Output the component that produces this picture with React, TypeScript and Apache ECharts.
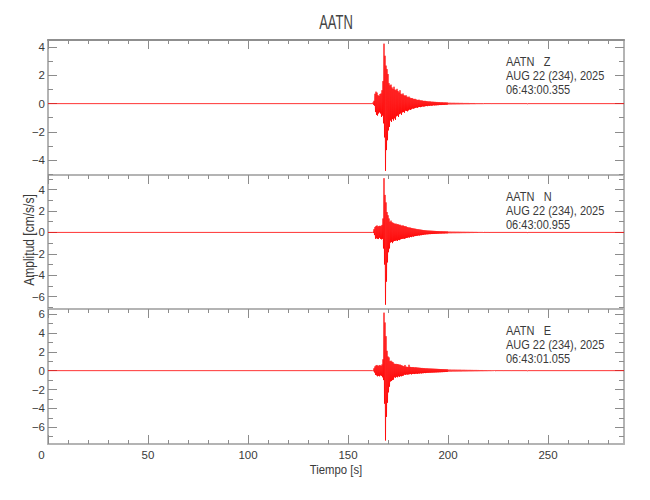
import React, { useEffect, useRef } from "react";
import * as echarts from "echarts";

const TITLE = "AATN";
const STATION = "AATN";
const COMPONENTS = ["Z", "N", "E"];
const DATE_LABEL = "AUG 22 (234), 2025";
const START_TIMES = ["06:43:00.355", "06:43:00.955", "06:43:01.055"];
const X_NAME = "Tiempo [s]";
const Y_NAME = "Amplitud [cm/s/s]";

const X_MAX = 288;
const X_MAJOR = [0, 50, 100, 150, 200, 250];
const X_MINOR = [10, 20, 30, 40, 60, 70, 80, 90, 110, 120, 130, 140, 160, 170, 180, 190, 210, 220, 230, 240, 260, 270, 280];

const Y_MIN = [-5.07, -7.15, -7.77];
const Y_MAX = [4.52, 5.36, 6.53];
const Y_MAJOR = [
  [-4, -2, 0, 2, 4],
  [-6, -4, -2, 0, 2, 4],
  [-6, -4, -2, 0, 2, 4, 6],
];
const Y_MINOR = [
  [-5, -3, -1, 1, 3],
  [-7, -5, -3, -1, 1, 3, 5],
  [-7, -5, -3, -1, 1, 3, 5],
];

// Envelope read per half second (upper / lower extremes), from t = 162.5 s
const ENV_START = 162.5;
const ENV_STEP = 0.5;

const Z_UP = [0.08, 0.2, 0.7, 0.85, 0.78, 0.6, 0.55, 0.68, 0.72, 0.95, 1.6, 4.26, 3.4, 2.7, 2.45, 2.1, 1.45, 1.3, 1.35, 1.15, 1.05, 1.2, 1.0, 0.95, 1.05, 0.9, 0.8, 0.95, 0.7, 0.65, 0.72, 0.6, 0.55, 0.6, 0.5, 0.45, 0.5, 0.42, 0.38, 0.4, 0.35, 0.32, 0.34, 0.3, 0.27, 0.26, 0.28, 0.24, 0.22, 0.23, 0.2, 0.19, 0.2, 0.18, 0.17, 0.16, 0.15, 0.16, 0.14, 0.13, 0.14, 0.12, 0.13, 0.11, 0.12, 0.1, 0.11, 0.1, 0.09, 0.1, 0.09, 0.08, 0.09, 0.08, 0.08];
const Z_LO = [-0.08, -0.15, -0.6, -0.8, -0.85, -0.7, -0.62, -0.7, -0.95, -0.85, -1.4, -2.4, -4.78, -3.3, -2.6, -1.9, -1.65, -1.2, -1.3, -1.1, -1.2, -1.05, -1.15, -0.9, -0.85, -0.95, -0.75, -0.7, -0.8, -0.62, -0.6, -0.65, -0.5, -0.52, -0.55, -0.48, -0.42, -0.45, -0.4, -0.35, -0.36, -0.33, -0.3, -0.28, -0.3, -0.25, -0.24, -0.25, -0.23, -0.2, -0.21, -0.2, -0.18, -0.17, -0.18, -0.15, -0.16, -0.14, -0.15, -0.14, -0.12, -0.13, -0.12, -0.12, -0.11, -0.11, -0.1, -0.1, -0.1, -0.09, -0.09, -0.09, -0.08, -0.08, -0.07];

const N_UP = [0.05, 0.3, 0.5, 0.6, 0.65, 0.55, 0.6, 0.62, 0.58, 0.7, 1.3, 5.06, 3.5, 2.8, 1.9, 1.6, 1.3, 1.0, 1.1, 0.95, 0.9, 0.85, 0.8, 0.82, 0.75, 0.78, 0.7, 0.72, 0.65, 0.62, 0.66, 0.6, 0.56, 0.58, 0.5, 0.48, 0.45, 0.46, 0.42, 0.4, 0.38, 0.36, 0.35, 0.33, 0.3, 0.3, 0.28, 0.27, 0.25, 0.24, 0.22, 0.21, 0.2, 0.19, 0.18, 0.17, 0.17, 0.16, 0.16, 0.15, 0.15, 0.14, 0.14, 0.13, 0.13, 0.12, 0.12, 0.11, 0.11, 0.11, 0.1, 0.1, 0.1, 0.09, 0.09];
const N_LO = [-0.05, -0.25, -0.6, -0.55, -0.6, -0.62, -0.5, -0.6, -0.65, -0.6, -1.5, -3.0, -6.75, -4.6, -2.8, -1.85, -1.5, -0.95, -0.9, -1.0, -0.85, -0.8, -0.78, -0.75, -0.8, -0.7, -0.72, -0.65, -0.62, -0.6, -0.58, -0.6, -0.55, -0.52, -0.5, -0.46, -0.48, -0.42, -0.44, -0.38, -0.4, -0.35, -0.34, -0.32, -0.31, -0.28, -0.29, -0.26, -0.26, -0.23, -0.23, -0.2, -0.2, -0.18, -0.18, -0.17, -0.16, -0.16, -0.15, -0.15, -0.14, -0.14, -0.13, -0.13, -0.12, -0.12, -0.11, -0.11, -0.11, -0.1, -0.1, -0.1, -0.09, -0.09, -0.09];

const E_UP = [0.05, 0.25, 0.45, 0.55, 0.6, 0.5, 0.55, 0.6, 0.5, 0.65, 1.2, 6.14, 5.1, 3.65, 2.1, 1.5, 1.4, 1.0, 1.05, 0.95, 0.9, 0.75, 0.7, 0.72, 0.68, 0.7, 0.62, 0.65, 0.58, 0.55, 0.5, 0.45, 0.6, 0.42, 0.4, 0.38, 0.62, 0.4, 0.38, 0.36, 0.38, 0.35, 0.34, 0.36, 0.32, 0.33, 0.3, 0.31, 0.28, 0.29, 0.26, 0.27, 0.25, 0.24, 0.25, 0.23, 0.23, 0.22, 0.22, 0.21, 0.21, 0.2, 0.2, 0.19, 0.19, 0.18, 0.18, 0.17, 0.17, 0.16, 0.16, 0.15, 0.15, 0.14, 0.14];
const E_LO = [-0.05, -0.2, -0.45, -0.5, -0.6, -0.55, -0.6, -0.5, -0.55, -0.7, -1.0, -3.5, -7.4, -4.9, -3.4, -2.3, -1.7, -1.15, -1.1, -1.0, -0.95, -0.7, -0.75, -0.65, -0.7, -0.6, -0.66, -0.58, -0.6, -0.55, -0.52, -0.42, -0.45, -0.4, -0.42, -0.4, -0.38, -0.36, -0.4, -0.35, -0.34, -0.36, -0.33, -0.32, -0.34, -0.3, -0.31, -0.28, -0.3, -0.27, -0.27, -0.25, -0.26, -0.24, -0.23, -0.23, -0.22, -0.22, -0.21, -0.21, -0.2, -0.2, -0.19, -0.19, -0.18, -0.18, -0.17, -0.17, -0.16, -0.16, -0.15, -0.15, -0.14, -0.14, -0.13];

// Coda amplitude, one value per second from t = 200 s
const TAIL_START = 200;
const TAIL_STEP = 1;
const Z_TAIL = [0.07, 0.07, 0.065, 0.065, 0.06, 0.06, 0.055, 0.055, 0.05, 0.05, 0.05, 0.045, 0.045, 0.045, 0.04, 0.04, 0.04, 0.04, 0.035, 0.035, 0.035, 0.035, 0.03, 0.03, 0.03, 0.03, 0.03, 0.03, 0.03, 0.03, 0.03, 0.03, 0.03, 0.03, 0.03, 0.03, 0.03, 0.03, 0.03, 0.03];
const N_TAIL = [0.09, 0.09, 0.085, 0.085, 0.08, 0.08, 0.075, 0.07, 0.07, 0.065, 0.065, 0.06, 0.06, 0.055, 0.055, 0.05, 0.05, 0.05, 0.045, 0.045, 0.045, 0.04, 0.04, 0.04, 0.04, 0.04, 0.04, 0.04, 0.04, 0.04, 0.04, 0.04, 0.04, 0.04, 0.04, 0.04, 0.04, 0.04, 0.04, 0.04];
const E_TAIL = [0.13, 0.13, 0.12, 0.12, 0.115, 0.11, 0.11, 0.1, 0.1, 0.095, 0.09, 0.09, 0.085, 0.08, 0.08, 0.075, 0.07, 0.07, 0.065, 0.065, 0.06, 0.06, 0.055, 0.055, 0.05, 0.05, 0.05, 0.05, 0.045, 0.045, 0.045, 0.045, 0.04, 0.04, 0.04, 0.04, 0.04, 0.04, 0.04, 0.04];

const TRACES = [
  { up: Z_UP, lo: Z_LO, tail: Z_TAIL },
  { up: N_UP, lo: N_LO, tail: N_TAIL },
  { up: E_UP, lo: E_LO, tail: E_TAIL },
];

function buildTrace(up: number[], lo: number[], tail: number[]) {
  const pts: number[][] = [[0, 0], [ENV_START - 0.25, 0]];
  up.forEach((u, i) => {
    const t = ENV_START + i * ENV_STEP;
    pts.push([t, u]);
    pts.push([t + ENV_STEP / 2, lo[i]]);
  });
  tail.forEach((a, i) => {
    const t = TAIL_START + i * TAIL_STEP;
    pts.push([t, a]);
    pts.push([t + TAIL_STEP / 2, -a]);
  });
  pts.push([TAIL_START + tail.length * TAIL_STEP, 0]);
  pts.push([X_MAX, 0]);
  return pts;
}

const FONT = "'Liberation Sans', Arial, sans-serif";
const GRID_TOPS = [40, 175, 309];
const GRID_HEIGHTS = [135, 134, 135];
const GRID_LEFT = 48;
const GRID_WIDTH = 576;
const AXIS_COLOR = "#b4b4b4";
const TICK_COLOR = "#8c8c8c";
const TEXT_COLOR = "#3a3a3a";

const fmt = (v: number) => (v < 0 ? "\u2212" + Math.abs(v) : String(v));

export default function App() {
  const ref = useRef<HTMLDivElement>(null);
  useEffect(() => {
    if (!ref.current) return;
    const chart = echarts.init(ref.current, null, { renderer: "svg" });

    const grids = GRID_TOPS.map((top, i) => ({
      left: GRID_LEFT,
      top,
      width: GRID_WIDTH,
      height: GRID_HEIGHTS[i],
      containLabel: false,
    }));

    const xAxes: any[] = [];
    const yAxes: any[] = [];
    const seriesX: number[] = [];
    const seriesY: number[] = [];

    const line = (show: boolean, color = AXIS_COLOR) => ({
      show,
      onZero: false,
      lineStyle: { color, width: 2 },
    });
    const tick = (values: number[], length: number) => ({
      show: true,
      inside: true,
      length,
      customValues: values,
      lineStyle: { color: TICK_COLOR, width: 1 },
    });

    const xBase = (i: number, position: string) => ({
      type: "value",
      gridIndex: i,
      position,
      min: 0,
      max: X_MAX,
      splitLine: { show: false },
      axisLabel: { show: false },
    });

    for (let i = 0; i < 3; i++) {
      seriesX.push(xAxes.length);
      xAxes.push({
        ...xBase(i, "top"),
        axisLine: line(true, i === 0 ? "#8f8f8f" : AXIS_COLOR),
        axisTick: tick(X_MAJOR, 9),
      });
      xAxes.push({
        ...xBase(i, "top"),
        axisLine: line(false),
        axisTick: tick(X_MINOR, 4),
      });
      if (i === 2) {
        xAxes.push({
          ...xBase(i, "bottom"),
          axisLine: line(true),
          axisTick: tick(X_MAJOR, 9),
          axisLabel: {
            show: true,
            customValues: X_MAJOR,
            margin: 5,
            color: TEXT_COLOR,
            fontSize: 11.5,
            fontFamily: FONT,
            formatter: (v: number) => (v === 0 ? "{z|0}" : String(v)),
            rich: { z: { padding: [0, 13, 0, 0], color: TEXT_COLOR, fontSize: 11.5, fontFamily: FONT } },
          },
        });
        xAxes.push({
          ...xBase(i, "bottom"),
          axisLine: line(false),
          axisTick: tick(X_MINOR, 4),
        });
      }

      const yBase = (position: string) => ({
        type: "value",
        gridIndex: i,
        position,
        min: Y_MIN[i],
        max: Y_MAX[i],
        splitLine: { show: false },
        axisLabel: { show: false },
      });
      seriesY.push(yAxes.length);
      yAxes.push({
        ...yBase("left"),
        axisLine: line(true),
        axisTick: tick(Y_MAJOR[i], 9),
        axisLabel: {
          show: true,
          customValues: Y_MAJOR[i],
          margin: 3,
          color: TEXT_COLOR,
          fontSize: 11.5,
          fontFamily: FONT,
          formatter: fmt,
        },
      });
      yAxes.push({
        ...yBase("left"),
        axisLine: line(false),
        axisTick: tick(Y_MINOR[i], 5),
      });
      yAxes.push({
        ...yBase("right"),
        axisLine: line(true),
        axisTick: tick(Y_MAJOR[i], 9),
      });
      yAxes.push({
        ...yBase("right"),
        axisLine: line(false),
        axisTick: tick(Y_MINOR[i], 5),
      });
    }

    const series = TRACES.map((tr, i) => ({
      type: "line",
      xAxisIndex: seriesX[i],
      yAxisIndex: seriesY[i],
      data: buildTrace(tr.up, tr.lo, tr.tail),
      showSymbol: false,
      symbol: "none",
      silent: true,
      clip: true,
      lineStyle: { color: "#ff0000", width: 0.8 },
      z: 1,
    }));

    const graphics: any[] = [
      {
        type: "text",
        x: GRID_LEFT + GRID_WIDTH / 2,
        y: 22,
        scaleX: 0.65,
        style: { text: TITLE, align: "center", verticalAlign: "middle", fontSize: 20, fontFamily: FONT, fill: "#444" },
      },
      {
        type: "text",
        x: GRID_LEFT + GRID_WIDTH / 2,
        y: 470,
        scaleX: 0.84,
        style: { text: X_NAME, align: "center", verticalAlign: "middle", fontSize: 13.5, fontFamily: FONT, fill: TEXT_COLOR },
      },
      {
        type: "text",
        x: 29,
        y: 240,
        rotation: Math.PI / 2,
        scaleX: 0.86,
        style: { text: Y_NAME, align: "center", verticalAlign: "middle", fontSize: 14, fontFamily: FONT, fill: TEXT_COLOR },
      },
    ];
    GRID_TOPS.forEach((top, i) => {
      graphics.push({
        type: "text",
        x: 506,
        y: top + 14.5,
        z: 10,
        scaleX: 0.815,
        style: {
          text: `${STATION}   ${COMPONENTS[i]}\n${DATE_LABEL}\n${START_TIMES[i]}`,
          align: "left",
          verticalAlign: "top",
          lineHeight: 14.2,
          fontSize: 13.5,
          fontFamily: FONT,
          fill: TEXT_COLOR,
        },
      });
    });

    chart.setOption({
      animation: false,
      backgroundColor: "#ffffff",
      grid: grids,
      xAxis: xAxes,
      yAxis: yAxes,
      series,
      graphic: graphics,
    });
    return () => chart.dispose();
  }, []);

  return (
    <div
      ref={ref}
      style={{ position: "fixed", left: 0, top: 0, width: 650, height: 500, background: "#fff" }}
    />
  );
}
